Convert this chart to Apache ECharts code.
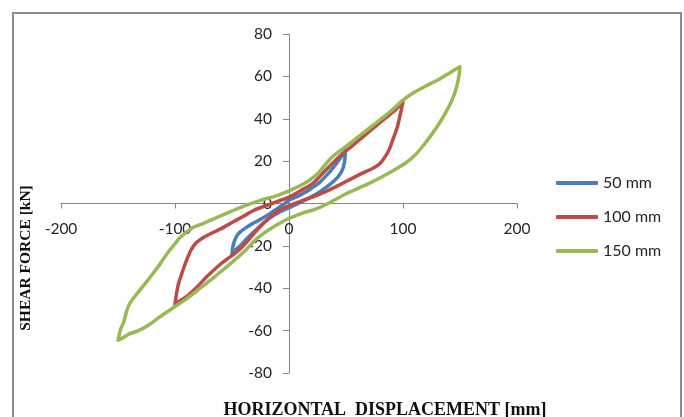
<!DOCTYPE html>
<html>
<head>
<meta charset="utf-8">
<script src="https://cdn.jsdelivr.net/npm/echarts@6/dist/echarts.min.js"></script>
<style>
  html, body { margin: 0; padding: 0; background: #ffffff; }
  #chart { width: 684px; height: 417px; }
</style>
</head>
<body>
<div id="chart"></div>
<script>
// Hysteresis loops: [horizontal displacement (mm), shear force (kN)],
// each loop starts at its positive peak, unloads to the negative peak and reloads.
const loop50 = [
  [49.5, 25], [49, 21], [47.7, 17.2], [45.5, 14.5], [42, 12], [37, 9.5], [31, 7], [24, 4.5],
  [16, 2.2], [8, 0], [0, -2], [-8, -4], [-16, -6.5], [-24, -10], [-30, -13], [-36, -16],
  [-41, -19], [-45, -21], [-48.5, -22.8], [-50, -24],
  [-49.5, -21], [-48, -18], [-46, -15.5], [-43, -13.5], [-38, -11.5], [-32, -9.5], [-25, -7.5],
  [-19, -5.5], [-12, -3], [-5, -0.5], [0, 1.5], [8, 3.5], [15, 5.5], [21, 7.7], [27, 10],
  [32, 12.8], [37, 15.8], [42, 19.2], [46, 22.2], [49.5, 25]
];
const loop100 = [
  [100, 48], [98, 43], [95, 36], [91, 30], [87.5, 25], [83, 21], [79, 18.5], [72, 16.2],
  [63, 14], [54, 11.5], [45, 9], [35, 6.3], [25, 4], [15, 2], [5, 0], [0, -1], [-8, -3],
  [-18, -7], [-28, -12.5], [-36, -17.5], [-42, -21], [-48, -23.8], [-55, -26.5], [-62, -29.5],
  [-72, -34.5], [-80, -39], [-90, -44], [-96, -46], [-100, -47.5],
  [-98.5, -42], [-97, -38], [-94, -33], [-90, -27], [-86, -22], [-81, -18.3], [-75, -16],
  [-69, -14.3], [-60, -12], [-50, -9], [-40, -6], [-30, -3], [-20, -1], [-10, 1], [0, 3],
  [10, 6], [21, 9.5], [30, 14.5], [36, 17.8], [42, 21], [48, 24], [55, 27], [65, 31.5],
  [75, 36], [85, 40.5], [93, 44], [100, 48]
];
const loop150 = [
  [150, 64.5], [149, 60], [147, 55], [143.5, 49.5], [138, 43.5], [132, 38], [125, 32.5],
  [118, 27.5], [110, 22.5], [102, 19], [93, 16], [83, 13], [72, 10], [60, 7], [48, 4],
  [36, 0.5], [24, -2.5], [12, -4.5], [0, -7], [-12, -10.5], [-22, -14], [-30, -17.5],
  [-38, -22], [-45, -25.5], [-55, -30], [-65, -34.5], [-78, -40], [-90, -45], [-101, -49],
  [-112, -53], [-122, -57], [-132, -60], [-140, -61.5], [-146, -63.5], [-150, -64.5],
  [-147.5, -59], [-145, -56], [-142, -50], [-139.5, -47], [-134, -43], [-128, -39],
  [-120, -33.5], [-113, -28.5], [-106, -23], [-100, -19], [-95.5, -16], [-90, -13.5],
  [-84, -11.2], [-78, -10], [-65, -7], [-49, -3.3], [-36, -0.5], [-25, 1.5], [-12, 3.5],
  [0, 6], [10, 8.5], [18, 11], [25, 14], [32, 18.5], [37, 21.5], [42, 23.8], [50, 27], [62, 32],
  [75, 37.5], [88, 43], [100, 48.8], [110, 52.5], [122, 56], [133, 59], [142, 62], [150, 64.5]
];

const seriesNames = ['50 mm', '100 mm', '150 mm'];
const seriesColors = ['#4a7ebb', '#be4b48', '#98b954'];
const loops = [loop50, loop100, loop150];

const xRange = { min: -200, max: 200, step: 100 };
const yRange = { min: -80, max: 80, step: 20 };

const axisGray = '#868686';
const labelFont = 'Lato, "Open Sans", sans-serif';
const titleFont = '"Liberation Serif", "Times New Roman", serif';

// plot box in pixels; the axes cross at (0, 0) inside it
const plot = { left: 61, right: 517, top: 34, bottom: 373 };
const W = 684, H = 417;
const zeroX = plot.left + (0 - xRange.min) / (xRange.max - xRange.min) * (plot.right - plot.left);
const zeroY = plot.top + (yRange.max - 0) / (yRange.max - yRange.min) * (plot.bottom - plot.top);

const chart = echarts.init(document.getElementById('chart'), null, { renderer: 'canvas' });

chart.setOption({
  animation: false,
  backgroundColor: '#ffffff',
  grid: { left: plot.left, right: W - plot.right, top: plot.top, bottom: H - plot.bottom, containLabel: false },
  xAxis: {
    type: 'value',
    min: xRange.min, max: xRange.max, interval: xRange.step,
    axisLine: { onZero: true, lineStyle: { color: axisGray, width: 1 } },
    axisTick: { show: true, inside: false, length: 5, lineStyle: { color: axisGray } },
    // labels sit just under the zero line
    axisLabel: { margin: (zeroY + 17) - plot.bottom, color: '#262626', fontSize: 15.5, fontFamily: labelFont },
    splitLine: { show: false }
  },
  yAxis: {
    type: 'value',
    min: yRange.min, max: yRange.max, interval: yRange.step,
    axisLine: { show: true, onZero: true, lineStyle: { color: axisGray, width: 1 } },
    axisTick: { show: true, inside: false, length: 6, lineStyle: { color: axisGray } },
    // labels sit just left of the zero line
    axisLabel: { margin: plot.left - (zeroX - 17), color: '#262626', fontSize: 15.5, fontFamily: labelFont },
    splitLine: { show: false }
  },
  legend: {
    orient: 'vertical',
    left: 556, top: 173, padding: 0,
    itemWidth: 42, itemHeight: 4, itemGap: 14,
    icon: 'roundRect',
    textStyle: { fontSize: 16, lineHeight: 20, color: '#262626', fontFamily: labelFont },
    data: seriesNames
  },
  graphic: [
    {
      type: 'rect',
      shape: { x: 13, y: 13, width: 668, height: 430 },
      style: { fill: 'none', stroke: '#8c8c8c', lineWidth: 2 },
      silent: true
    },
    {
      type: 'text',
      x: 26, y: 258,
      rotation: Math.PI / 2,
      style: {
        text: 'SHEAR FORCE [kN]',
        font: 'bold 15.5px ' + titleFont,
        fill: '#111111',
        align: 'center', verticalAlign: 'middle'
      }
    },
    {
      type: 'text',
      x: 385, y: 410,
      style: {
        text: 'HORIZONTAL  DISPLACEMENT [mm]',
        font: 'bold 18px ' + titleFont,
        fill: '#111111',
        align: 'center', verticalAlign: 'middle'
      }
    }
  ],
  series: loops.map((loop, i) => ({
    name: seriesNames[i],
    type: 'line',
    data: loop,
    showSymbol: false,
    symbol: 'none',
    smooth: 0.25,
    lineStyle: { color: seriesColors[i], width: 3.5, cap: 'round', join: 'round' },
    itemStyle: { color: seriesColors[i] },
    z: 2 + i
  }))
});
</script>
</body>
</html>
